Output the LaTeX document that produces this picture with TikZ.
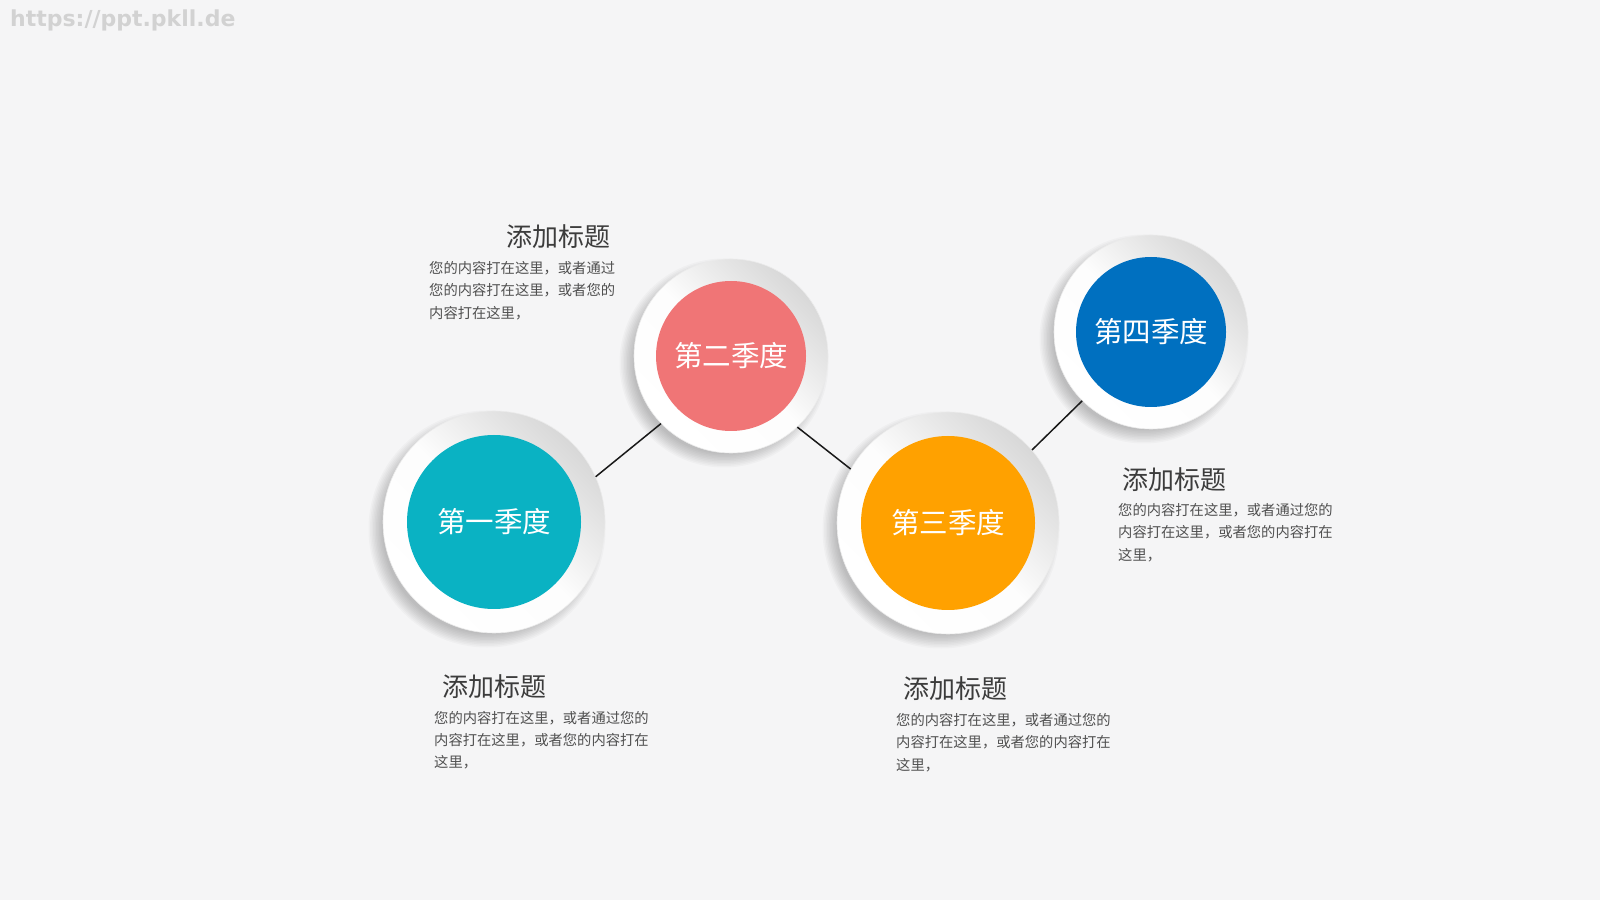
\documentclass[tikz,border=0pt]{standalone}
\usepackage{fontspec}
\setmainfont{Noto Sans CJK SC}
\newfontfamily\wmfont{DejaVu Sans}
\definecolor{bgc}{HTML}{F5F5F6}
\definecolor{cteal}{HTML}{0AB2C3}
\definecolor{cpink}{HTML}{F07576}
\definecolor{corange}{HTML}{FFA100}
\definecolor{cblue}{HTML}{0070C0}
\definecolor{ringgrey}{HTML}{D8D8D8}
\definecolor{headc}{HTML}{3C3C3C}
\definecolor{bodyc}{HTML}{505050}
\definecolor{wmc}{HTML}{D2D2D2}
\tikzset{
  outerring/.style={circle, inner sep=0pt, top color=ringgrey, bottom color=white, middle color=white!94!ringgrey, shading angle=-45},
  ringedge/.style={draw=black!8, line width=0.6pt},
  innerdisc/.style={circle, inner sep=0pt, text=white, font=\fontsize{28.5}{30}\selectfont},
  heading/.style={inner sep=0pt, text=headc, font=\fontsize{26}{28}\selectfont},
  bodyline/.style={inner sep=0pt, anchor=west, text=bodyc, font=\fontsize{14.3}{16}\selectfont},
  link/.style={line width=1.5pt, draw=black!90},
  shadowlayer/.style={fill=black, opacity=0.022}
}
\begin{document}
\begin{tikzpicture}[x=1pt,y=1pt]
\fill[bgc] (0,0) rectangle (1600,900);
\useasboundingbox (0,0) rectangle (1600,900);

% watermark
\node[anchor=west, inner sep=0pt, text=wmc, font=\wmfont\bfseries\fontsize{22}{24}\selectfont] (wm) at (10,880) {https://ppt.pkll.de};

% soft shadows (toward lower left)
\foreach \cx/\cy/\R in {494/378/111, 731/544/97, 948/377/111, 1151/568/97}{
  \foreach \k in {0,...,9}{
    \fill[shadowlayer] (\cx-7,\cy-7) circle ({\R-6+1.5*\k});
  }
}

% outer rings
\node[outerring, ringedge, minimum size=222pt] (q1) at (494,378) {};
\node[outerring, ringedge, minimum size=194pt] (q2) at (731,544) {};
\node[outerring, ringedge, minimum size=222pt] (q3) at (948,377) {};
\node[outerring, ringedge, minimum size=194pt] (q4) at (1151,568) {};

% inner discs
\node[innerdisc, fill=cteal, minimum size=174pt] (q1i) at (q1.center) {第一季度};
\node[innerdisc, fill=cpink, minimum size=150pt] (q2i) at (q2.center) {第二季度};
\node[innerdisc, fill=corange, minimum size=174pt] (q3i) at (q3.center) {第三季度};
\node[innerdisc, fill=cblue, minimum size=150pt] (q4i) at (q4.center) {第四季度};

% connectors
\draw[link] (q1.24) -- (q2.224);
\draw[link] (q2.-47) -- (q3.151);
\draw[link] (q3.41) -- (q4.225);

% text block for Q2 (top left)
\node[heading, anchor=east] (h2) at (611,663) {添加标题};
\node[bodyline] (b2a) at (429,632) {您的内容打在这里，或者通过};
\node[bodyline] (b2b) at (429,610) {您的内容打在这里，或者您的};
\node[bodyline] (b2c) at (429,587) {内容打在这里，};

% text block for Q4 (right)
\node[heading, anchor=west] (h4) at (1122,420) {添加标题};
\node[bodyline] (b4a) at (1118,390) {您的内容打在这里，或者通过您的};
\node[bodyline] (b4b) at (1118,368) {内容打在这里，或者您的内容打在};
\node[bodyline] (b4c) at (1118,345) {这里，};

% text block for Q1 (bottom left)
\node[heading, anchor=west] (h1) at (442,213) {添加标题};
\node[bodyline] (b1a) at (434,182) {您的内容打在这里，或者通过您的};
\node[bodyline] (b1b) at (434,160) {内容打在这里，或者您的内容打在};
\node[bodyline] (b1c) at (434,138) {这里，};

% text block for Q3 (bottom middle)
\node[heading, anchor=west] (h3) at (903,211) {添加标题};
\node[bodyline] (b3a) at (896,180) {您的内容打在这里，或者通过您的};
\node[bodyline] (b3b) at (896,158) {内容打在这里，或者您的内容打在};
\node[bodyline] (b3c) at (896,135) {这里，};
\end{tikzpicture}
\end{document}
